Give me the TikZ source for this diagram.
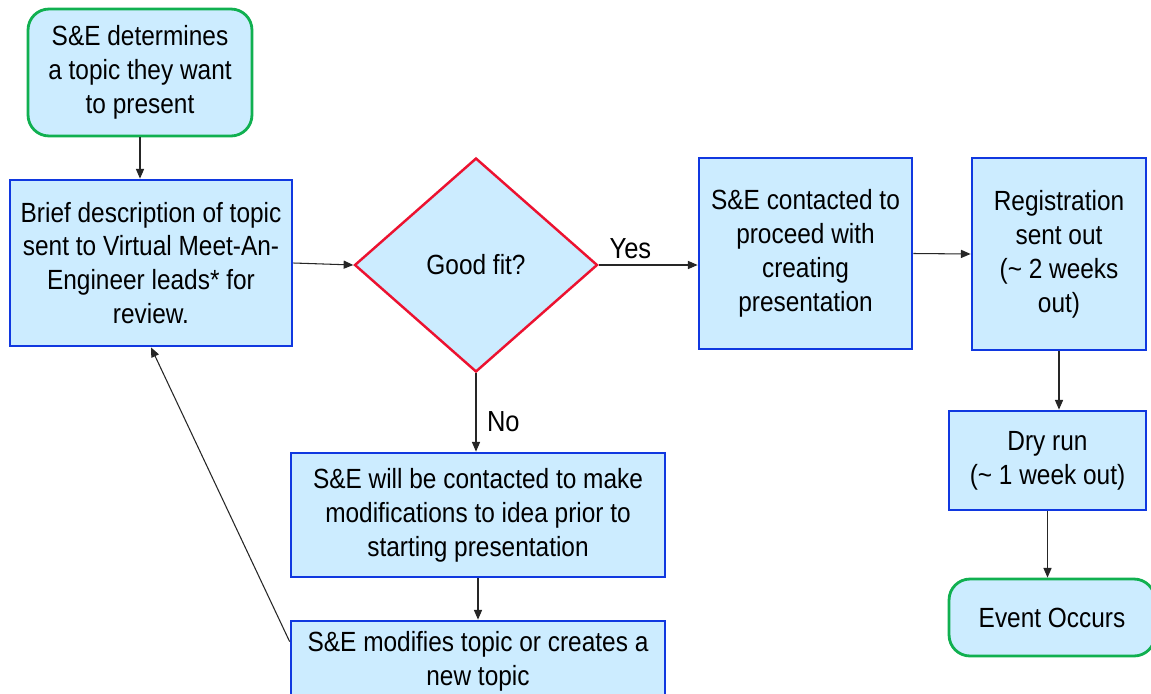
\documentclass[tikz,border=0pt]{standalone}
\usepackage{fontspec}
\setmainfont{Liberation Sans}[FakeStretch=0.88]
\usetikzlibrary{shapes.geometric,arrows.meta}
\definecolor{boxfill}{HTML}{CCECFF}
\definecolor{boxblue}{HTML}{1038E0}
\definecolor{boxgreen}{HTML}{10B050}
\definecolor{boxred}{HTML}{EC1230}
\tikzset{
  txt/.style={font=\fontsize{15.8}{19.3}\selectfont, align=center, text=black, inner sep=0pt},
  procbox/.style={txt, draw=boxblue, fill=boxfill, line width=1.6pt, rectangle},
  termbox/.style={txt, draw=boxgreen, fill=boxfill, line width=1.6pt, rectangle, rounded corners=0.42cm},
  decbox/.style={txt, draw=boxred, fill=boxfill, line width=1.4pt, diamond, inner sep=0pt},
  arr/.style={draw=black!85, line width=0.6pt, -{Triangle[length=5.5pt,width=4.6pt]}},
  lbl/.style={font=\fontsize{16.5}{19}\selectfont, text=black, inner sep=0pt}
}
\begin{document}
\begin{tikzpicture}[x=0.02cm,y=0.02cm]
\clip (0,0) rectangle (1151,-693);
\fill[white] (0,0) rectangle (1151,-693);

\node[termbox, minimum width=4.48cm, minimum height=2.54cm] (start) at (140,-72.5)
  {S\&E determines\\a topic they want\\to present};
\node[procbox, minimum width=5.64cm, minimum height=3.32cm] (brief) at (151,-263)
  {Brief description of topic\\sent to Virtual Meet-An-\\Engineer leads* for\\review.};
\node[decbox, minimum width=4.86cm, minimum height=4.28cm] (fit) at (476,-265)
  {Good fit?};
\node[procbox, minimum width=4.26cm, minimum height=3.82cm] (contact) at (805.5,-253.5)
  {S\&E contacted to\\proceed with\\creating\\presentation};
\node[procbox, minimum width=3.48cm, minimum height=3.84cm] (reg) at (1059,-254)
  {Registration\\sent out\\(\textasciitilde{} 2 weeks\\out)};
\node[procbox, minimum width=3.94cm, minimum height=1.98cm] (dry) at (1047.5,-460.5)
  {Dry run\\(\textasciitilde{} 1 week out)};
\node[termbox, minimum width=4.12cm, minimum height=1.54cm] (event) at (1052,-617.5)
  {Event Occurs};
\node[procbox, minimum width=7.48cm, minimum height=2.48cm] (mod) at (478,-515)
  {S\&E will be contacted to make\\modifications to idea prior to\\starting presentation};
\node[procbox, minimum width=7.48cm, minimum height=1.62cm] (modt) at (478,-661.5)
  {S\&E modifies topic or creates a\\new topic};

\coordinate (back) at ([yshift=-0.44cm]modt.north west);

\draw[arr] (start.south) -- (start.south |- brief.north);
\draw[arr] (brief.east) -- (fit.west);
\draw[arr] (fit.east) -- (fit.east -| contact.west)
  node[lbl, pos=0.32, above=3pt] (yes) {Yes};
\draw[arr] (fit.south) -- (fit.south |- mod.north)
  node[lbl, pos=0.62, right=6pt] (no) {No};
\draw[arr] (contact.east) -- (reg.west);
\draw[arr] (reg.south) -- (reg.south |- dry.north);
\draw[arr] (dry.south) -- (dry.south |- event.north);
\draw[arr] (mod.south) -- (mod.south |- modt.north);
\draw[arr] (back) -- (brief.south);
\end{tikzpicture}
\end{document}
